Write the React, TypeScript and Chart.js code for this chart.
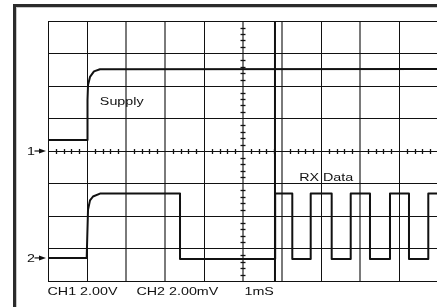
import { useEffect, useRef } from "react";
import { Chart, registerables } from "chart.js";

Chart.register(...registerables);

// Grid: 10 horizontal divisions, 8 vertical divisions (values in divisions)
const xDivisions = 10;
const yDivisions = 8;

// CH1 – Supply trace
const ch1X = [0, 1.0, 1.013, 1.026, 1.077, 1.179, 1.333, 10];
const ch1Y = [4.34, 4.34, 5.57, 6.03, 6.28, 6.45, 6.515, 6.52];

// CH2 – RX Data trace
const ch2X = [
  0, 0.992, 1.026, 1.077, 1.154, 1.333, 3.385, 3.385, 5.825, 5.825, 6.264, 6.264,
  6.736, 6.736, 7.274, 7.274, 7.762, 7.762, 8.256, 8.256, 8.769, 8.769, 9.256,
  9.256, 9.751, 9.751, 10,
];
const ch2Y = [
  0.71, 0.71, 2.19, 2.48, 2.6, 2.69, 2.69, 0.68, 0.68, 2.69, 2.69, 0.68, 0.68,
  2.69, 2.69, 0.68, 0.68, 2.69, 2.69, 0.68, 0.68, 2.69, 2.69, 0.68, 0.68, 2.69,
  2.69,
];

// Cursor line
const cursorX = [5.82, 5.82];
const cursorY = [0, 8];

// Ground markers
const groundMarkers = ["1", "2"];
const groundLevels = [4.0, 0.71];

// Labels
const traceNames = ["Supply", "RX Data"];
const traceNameX = [1.33, 6.44];
const traceNameY = [5.43, 3.08];
const settingLabels = ["CH1 2.00V", "CH2 2.00mV", "1mS"];
const settingLabelX = [0, 2.28, 5.05];

const grayGridX = [2, 3, 5, 6, 8];

const FONT = '11px "Liberation Sans", Arial, Helvetica, sans-serif';
const STRETCH = 1.3;
const INK = "#111";

function drawText(ctx: CanvasRenderingContext2D, text: string, x: number, y: number) {
  ctx.save();
  ctx.translate(x, y);
  ctx.scale(STRETCH, 1);
  ctx.fillStyle = INK;
  ctx.font = FONT;
  ctx.textBaseline = "alphabetic";
  ctx.textAlign = "left";
  ctx.fillText(text, 0, 0);
  ctx.restore();
}

const scopePlugin = {
  id: "scopeDecor",
  beforeDraw(chart: any) {
    const ctx: CanvasRenderingContext2D = chart.ctx;
    const W = chart.width;
    const H = chart.height;
    ctx.save();
    ctx.fillStyle = "#fff";
    ctx.fillRect(0, 0, W, H);
    ctx.fillStyle = "#2b2b2b";
    ctx.fillRect(13, 4, W - 13, 3);
    ctx.fillRect(13, 4, 3, H - 4);
    ctx.fillStyle = "#c8c8c8";
    ctx.fillRect(16, 7, W - 16, 1);
    ctx.fillRect(16, 7, 1, H - 7);
    ctx.restore();
  },
  beforeDatasetsDraw(chart: any) {
    const ctx: CanvasRenderingContext2D = chart.ctx;
    const xs = chart.scales.x;
    const ys = chart.scales.y;
    const cy = Math.round(ys.getPixelForValue(yDivisions / 2)) + 0.5;
    const cx = Math.round(xs.getPixelForValue(xDivisions / 2));
    ctx.save();
    ctx.strokeStyle = INK;
    ctx.lineWidth = 1.3;
    for (let i = 0; i <= xDivisions * 5; i++) {
      if (i % 5 === 0) continue;
      const px = Math.round(xs.getPixelForValue(i / 5)) + 0.5;
      ctx.beginPath();
      ctx.moveTo(px, cy - 2.5);
      ctx.lineTo(px, cy + 2.5);
      ctx.stroke();
    }
    for (let j = 0; j <= yDivisions * 5; j++) {
      if (j % 5 === 0) continue;
      const py = Math.round(ys.getPixelForValue(j / 5)) + 0.5;
      ctx.beginPath();
      ctx.moveTo(cx - 2.5, py);
      ctx.lineTo(cx + 2.5, py);
      ctx.stroke();
    }
    ctx.restore();
  },
  afterDraw(chart: any) {
    const ctx: CanvasRenderingContext2D = chart.ctx;
    const xs = chart.scales.x;
    const ys = chart.scales.y;
    const area = chart.chartArea;
    traceNames.forEach((t, i) => {
      drawText(ctx, t, xs.getPixelForValue(traceNameX[i]), ys.getPixelForValue(traceNameY[i]));
    });
    settingLabels.forEach((t, i) => {
      drawText(ctx, t, xs.getPixelForValue(settingLabelX[i]) - 0.5, area.bottom + 14);
    });
    groundMarkers.forEach((t, i) => {
      const py = ys.getPixelForValue(groundLevels[i]);
      drawText(ctx, t, area.left - 21, py + 4);
      ctx.save();
      ctx.strokeStyle = INK;
      ctx.fillStyle = INK;
      ctx.lineWidth = 1.2;
      ctx.beginPath();
      ctx.moveTo(area.left - 13.5, py);
      ctx.lineTo(area.left - 7, py);
      ctx.stroke();
      ctx.beginPath();
      ctx.moveTo(area.left - 9, py - 2.5);
      ctx.lineTo(area.left - 2, py);
      ctx.lineTo(area.left - 9, py + 2.5);
      ctx.closePath();
      ctx.fill();
      ctx.restore();
    });
  },
};

function toPoints(xs: number[], ys: number[]) {
  return xs.map((x, i) => ({ x, y: ys[i] }));
}

export default function App() {
  const ref = useRef<HTMLCanvasElement>(null);
  useEffect(() => {
    if (!ref.current) return;
    const chart = new Chart(ref.current, {
      type: "line",
      data: {
        datasets: [
          {
            label: "Supply",
            data: toPoints(ch1X, ch1Y),
            borderColor: INK,
            borderWidth: 2,
            pointRadius: 0,
            tension: 0,
            borderJoinStyle: "round",
          },
          {
            label: "RX Data",
            data: toPoints(ch2X, ch2Y),
            borderColor: INK,
            borderWidth: 2,
            pointRadius: 0,
            tension: 0,
            borderJoinStyle: "round",
          },
          {
            label: "Cursor",
            data: toPoints(cursorX, cursorY),
            borderColor: INK,
            borderWidth: 2,
            pointRadius: 0,
          },
        ],
      },
      options: {
        responsive: false,
        animation: false,
        devicePixelRatio: 1,
        layout: { padding: { left: 48, top: 21, right: 12, bottom: 26 } },
        plugins: { legend: { display: false }, tooltip: { enabled: false } },
        scales: {
          x: {
            type: "linear",
            min: 0,
            max: xDivisions,
            ticks: { display: false, stepSize: 1 },
            border: { display: false },
            grid: {
              drawTicks: false,
              color: (c: any) => (grayGridX.includes(c.index) ? "#7a7a7a" : INK),
              lineWidth: (c: any) => (grayGridX.includes(c.index) ? 2 : 1),
            },
          },
          y: {
            type: "linear",
            min: 0,
            max: yDivisions,
            ticks: { display: false, stepSize: 1 },
            border: { display: false },
            grid: { drawTicks: false, color: INK, lineWidth: 1 },
          },
        },
      },
      plugins: [scopePlugin],
    } as any);
    return () => chart.destroy();
  }, []);
  return (
    <div
      style={{
        position: "fixed",
        left: 0,
        top: 0,
        width: 437,
        height: 307,
        overflow: "hidden",
        background: "#fff",
      }}
    >
      <canvas ref={ref} width={450} height={307} style={{ display: "block", width: 450, height: 307 }} />
    </div>
  );
}
